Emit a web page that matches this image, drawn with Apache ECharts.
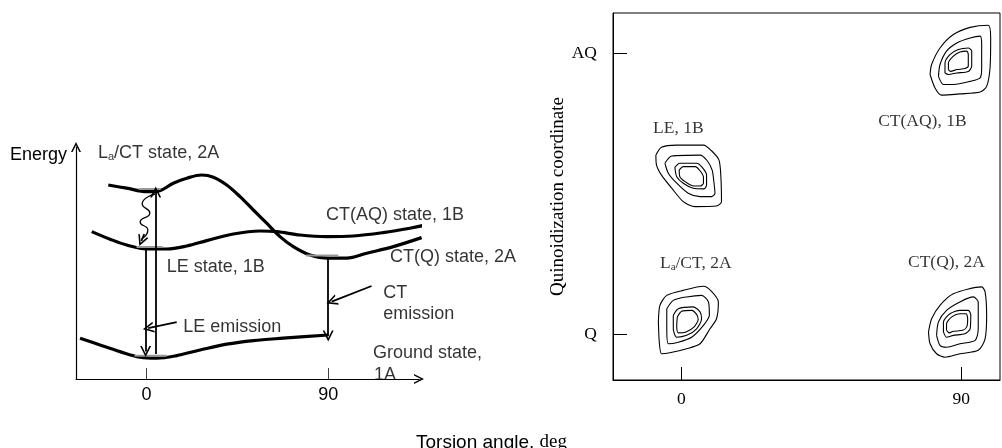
<!DOCTYPE html>
<html><head><meta charset="utf-8">
<script src="https://cdn.jsdelivr.net/npm/echarts@6/dist/echarts.min.js"></script>
<style>html,body{margin:0;padding:0;background:#fff}#c{width:1002px;height:448px}</style>
</head><body><div id="c"></div>
<script>
// ---------------- data ----------------
const torsionTicks = [0, 90];
const torsionTickLabels = ['0', '90'];
const quinoidTicks = [0, 90];
const quinoidTickLabels = ['Q', 'AQ'];

// Left panel: potential energy curves [torsion angle (deg), energy (arb. units)]
const laCtCurve = [[-19.0,97.0],[-9.9,95.4],[0.0,93.7],[6.6,94.2],[13.2,97.9],[19.9,100.4],[27.3,102.0],[33.1,100.9],[39.7,97.0],[46.3,91.2],[52.9,84.5],[59.5,77.9],[66.1,71.2],[72.7,66.2],[81.0,62.0],[90.0,60.4],[99.2,60.4],[109.1,62.9],[122.3,66.2],[136.3,70.7]];
const ctAqCurve = [[-27.2,73.7],[-18.1,69.9],[-9.9,67.0],[0.0,65.0],[10.0,65.0],[19.9,66.5],[29.8,69.2],[43.0,72.5],[56.2,74.0],[64.5,73.7],[76.0,72.0],[89.2,71.2],[102.4,71.5],[117.3,73.2],[130.5,75.4],[140.4,77.5]];
const groundCurve = [[-33.0,20.4],[-23.1,17.0],[-13.2,13.7],[-3.3,10.9],[5.0,10.4],[14.9,11.7],[26.5,14.5],[39.7,17.4],[52.9,19.2],[67.7,20.4],[90.0,22.0]];
const levelLines = [[[-4,95],[7,95]],[[-5,66],[8,66]],[[-6,11.6],[10,11.6]],[[79,61.8],[95,61.8]]];
const wavyLine = [[4.2,92.5],[-2.2,87.5],[1.6,83.0],[-3.2,78.5],[0.6,74.5],[-2.4,70.0]];
const arrows = [
  [[4.5,12.5],[4.5,93.5]],      // absorption
  [[-0.5,65.0],[-0.5,13.7]],    // LE emission
  [[90.0,60.4],[90.0,21.5]],    // CT emission
  [[14.9,28.4],[0.8,25.4]],     // pointer to LE emission
  [[111.5,46.5],[91.7,38.7]],   // pointer to CT emission
  [[-1.2,72.5],[-2.6,69.0]]     // wavy arrow head
];
const leftLabels = [
  ['L{sub|a}/CT state, 2A', -24.1, 113.0],
  ['CT(AQ) state, 1B', 88.9, 82.0],
  ['CT(Q) state, 2A', 120.6, 60.8],
  ['LE state, 1B', 10.0, 56.2],
  ['LE emission', 18.2, 26.2],
  ['CT', 117.3, 43.0],
  ['emission', 117.3, 32.5],
  ['Ground state,', 112.2, 13.0],
  ['1A', 112.7, 1.8]
];

// Right panel: contour rings [torsion angle (deg), quinoidization (Q=0, AQ=90)]
const le1bRings = [
  [[-8.2,57.3],[-6.4,59.8],[-1.5,60.5],[7.1,60.5],[9.7,58.7],[12.1,55.7],[12.7,50.4],[12.9,42.4],[11.3,41.0],[4.4,40.8],[0.6,42.4],[-3.1,46.7],[-6.4,50.9],[-8.0,54.1]],
  [[-5.3,54.7],[-3.1,57.0],[6.0,57.3],[8.3,55.5],[9.9,52.5],[10.5,48.3],[10.8,45.1],[9.7,44.0],[6.0,44.0],[2.2,45.1],[-1.5,48.3],[-4.2,51.5]],
  [[-2.1,53.4],[-0.5,54.7],[4.9,54.7],[6.7,53.4],[8.1,50.9],[8.1,47.7],[7.3,46.5],[3.8,46.7],[0.6,48.3],[-1.5,50.4]],
  [[-0.7,52.5],[0.6,53.6],[4.4,53.6],[6.0,52.3],[7.1,50.2],[7.1,48.3],[6.0,47.4],[3.6,47.5],[1.2,48.8],[-0.5,50.4]]
];
const ctAqRings = [
  [[80.0,83.1],[80.5,86.3],[83.2,91.6],[87.5,95.9],[92.9,98.2],[98.7,98.9],[99.5,94.8],[99.3,85.2],[98.2,79.3],[96.1,77.5],[89.6,76.9],[83.7,76.5],[81.6,78.8]],
  [[82.7,82.5],[83.2,86.3],[85.3,90.6],[88.6,93.2],[92.9,94.8],[96.1,95.4],[96.6,92.7],[96.6,85.2],[96.1,82.0],[92.9,80.9],[87.5,79.9],[84.3,79.9]],
  [[84.8,83.6],[84.8,86.8],[86.4,89.5],[89.1,91.1],[92.3,91.6],[93.4,90.6],[93.4,85.8],[92.3,84.1],[88.6,83.6],[85.9,83.1]],
  [[85.9,84.7],[85.9,86.8],[87.5,89.0],[89.6,90.3],[91.8,90.6],[92.3,89.5],[92.3,85.8],[91.2,85.0],[88.6,84.7],[86.6,84.1]]
];
const laCtRings = [
  [[-7.4,3.9],[-6.9,9.2],[-4.7,12.4],[0.6,14.0],[7.1,15.3],[9.7,13.7],[11.9,10.3],[11.3,4.9],[9.2,1.7],[6.0,-3.1],[1.7,-4.7],[-3.7,-6.0],[-6.4,-6.3],[-7.1,-2.6]],
  [[-4.7,8.1],[-2.6,10.8],[1.7,11.9],[6.5,12.4],[8.7,10.3],[9.0,6.0],[7.1,2.8],[3.3,-1.0],[-1.0,-2.6],[-4.2,-3.1],[-4.7,1.7]],
  [[-2.6,6.0],[-1.0,8.1],[3.8,8.7],[6.0,7.1],[6.5,4.9],[4.9,1.7],[1.7,-0.4],[-1.5,-1.0],[-2.6,1.7]],
  [[-1.3,5.5],[0.1,7.3],[3.3,7.6],[4.9,6.3],[5.4,4.7],[4.1,2.3],[1.5,0.7],[-1.0,0.4],[-1.5,2.8]]
];
const ctQRings = [
  [[79.5,0.7],[80.5,4.9],[83.2,9.2],[87.5,12.9],[96.6,15.1],[97.7,13.5],[98.2,6.0],[97.7,-1.5],[95.5,-5.2],[89.6,-6.3],[84.8,-7.4],[82.1,-6.3],[80.0,-3.1]],
  [[82.1,-0.4],[82.7,3.9],[85.3,7.6],[89.6,10.3],[93.9,11.9],[95.5,10.3],[95.5,1.7],[94.5,-2.0],[89.6,-3.1],[85.3,-4.2],[83.2,-3.6]],
  [[84.3,0.7],[84.3,3.9],[86.4,6.5],[89.6,7.6],[92.3,7.6],[93.1,6.0],[92.9,1.7],[91.2,0.1],[87.5,-0.4],[85.3,-1.0]],
  [[85.3,1.2],[85.3,3.3],[87.0,5.5],[89.6,6.5],[91.6,6.5],[92.1,4.9],[91.8,2.3],[90.5,1.2],[87.5,0.9],[86.2,0.4]]
];
const rightLabels = [
  ['LE, 1B', -9.1, 65.7],
  ['CT(AQ), 1B', 63.3, 68.2],
  ['L{sub|a}/CT, 2A', -6.9, 22.7],
  ['CT(Q), 2A', 72.9, 23.1]
];

// ---------------- chart ----------------
const SANS = 'Liberation Sans';
const SERIF = 'Liberation Serif';
const chevron = 'path://M0,10L5,0L10,10L8.4,10L5,3.2L1.6,10Z';

const series = [];
function curve(data, width) {
  series.push({type: 'line', xAxisIndex: 0, yAxisIndex: 0, data: data, smooth: 0.35,
    symbol: 'none', clip: false, lineStyle: {color: '#000', width: width}, z: 3});
}
curve(laCtCurve, 3.2); curve(ctAqCurve, 3.2); curve(groundCurve, 3.2);
levelLines.forEach(l => series.push({type: 'line', xAxisIndex: 0, yAxisIndex: 0, data: l,
  symbol: 'none', lineStyle: {color: '#999', width: 2}, z: 4}));
series.push({type: 'line', xAxisIndex: 0, yAxisIndex: 0, data: wavyLine, smooth: 0.6,
  symbol: 'none', lineStyle: {color: '#000', width: 1.3}, z: 3});
series.push({type: 'lines', coordinateSystem: 'cartesian2d', xAxisIndex: 0, yAxisIndex: 0,
  data: arrows.map(a => ({coords: a})), symbol: ['none', chevron], symbolSize: [10, 11],
  lineStyle: {color: '#000', width: 1.8, opacity: 1, curveness: 0}, z: 5});
series.push({type: 'scatter', xAxisIndex: 0, yAxisIndex: 0, symbolSize: 0, clip: false,
  data: leftLabels.map(d => ({name: d[0], value: [d[1], d[2]]})),
  label: {show: true, position: 'right', distance: 0, formatter: p => p.name,
    color: '#000', fontFamily: SANS, fontSize: 18,
    rich: {sub: {fontFamily: SANS, fontSize: 11, padding: [8, 0, 0, 0]}}}, z: 6});

[le1bRings, ctAqRings, laCtRings, ctQRings].forEach(rings => rings.forEach(r => {
  series.push({type: 'line', xAxisIndex: 1, yAxisIndex: 1, data: r.concat([r[0]]),
    smooth: 0.25, symbol: 'none', lineStyle: {color: '#000', width: 1.1}});
}));
series.push({type: 'scatter', xAxisIndex: 1, yAxisIndex: 1, symbolSize: 0, clip: false,
  data: rightLabels.map(d => ({name: d[0], value: [d[1], d[2]]})),
  label: {show: true, position: 'right', distance: 0, formatter: p => p.name,
    color: '#000', fontFamily: SERIF, fontSize: 17.5,
    rich: {sub: {fontFamily: SERIF, fontSize: 11, padding: [8, 0, 0, 0]}}}});

const option = {
  animation: false,
  backgroundColor: '#fff',
  title: {text: 'Torsion angle, {d|deg}', left: 411, top: 428,
    textStyle: {fontFamily: SANS, fontSize: 19, fontWeight: 'normal', color: '#000',
      rich: {d: {fontFamily: SERIF, fontSize: 19, color: '#000'}}}},
  grid: [
    {left: 76, right: 583, top: 147, bottom: 69},
    {left: 613, right: 2, top: 13, bottom: 68, show: true, borderColor: '#000', borderWidth: 1}
  ],
  xAxis: [
    {gridIndex: 0, type: 'value', min: -35, max: 135, splitLine: {show: false},
      axisLine: {show: true, onZero: false, symbol: ['none', chevron], symbolSize: [10, 11],
        lineStyle: {color: '#000', width: 1.2}},
      axisTick: {show: true, inside: true, length: 11, customValues: torsionTicks, lineStyle: {color: '#444'}},
      axisLabel: {show: true, customValues: torsionTicks, margin: 7, color: '#000',
        fontFamily: SANS, fontSize: 18, formatter: v => torsionTickLabels[torsionTicks.indexOf(v)]}},
    {gridIndex: 1, type: 'value', min: -22, max: 102.5, splitLine: {show: false},
      axisLine: {show: true, onZero: false, lineStyle: {color: '#000', width: 1}},
      axisTick: {show: true, inside: true, length: 13, customValues: torsionTicks, lineStyle: {color: '#000'}},
      axisLabel: {show: true, customValues: torsionTicks, margin: 10, color: '#000',
        fontFamily: SERIF, fontSize: 17.5, formatter: v => torsionTickLabels[torsionTicks.indexOf(v)]}}
  ],
  yAxis: [
    {gridIndex: 0, type: 'value', min: 0, max: 116, splitLine: {show: false},
      name: 'Energy', nameLocation: 'end', nameGap: -8,
      nameTextStyle: {fontFamily: SANS, fontSize: 18, color: '#000', align: 'right',
        verticalAlign: 'middle', padding: [0, 9, 0, 0]},
      axisLine: {show: true, onZero: false, symbol: ['none', chevron], symbolSize: [10, 11],
        lineStyle: {color: '#000', width: 1.2}},
      axisTick: {show: false}, axisLabel: {show: false}},
    {gridIndex: 1, type: 'value', min: -14.7, max: 102.8, splitLine: {show: false},
      name: 'Quinoidization coordinate', nameLocation: 'middle', nameGap: 41, nameRotate: 90,
      nameTextStyle: {fontFamily: SERIF, fontSize: 19, color: '#000'},
      axisLine: {show: true, onZero: false, lineStyle: {color: '#000', width: 1}},
      axisTick: {show: true, inside: true, length: 14, customValues: quinoidTicks, lineStyle: {color: '#000'}},
      axisLabel: {show: true, customValues: quinoidTicks, margin: 16, color: '#000',
        fontFamily: SERIF, fontSize: 17.5, formatter: v => quinoidTickLabels[quinoidTicks.indexOf(v)]}}
  ],
  series: series
};
const chart = echarts.init(document.getElementById('c'), null, {renderer: 'canvas'});
chart.setOption(option);
</script></body></html>
